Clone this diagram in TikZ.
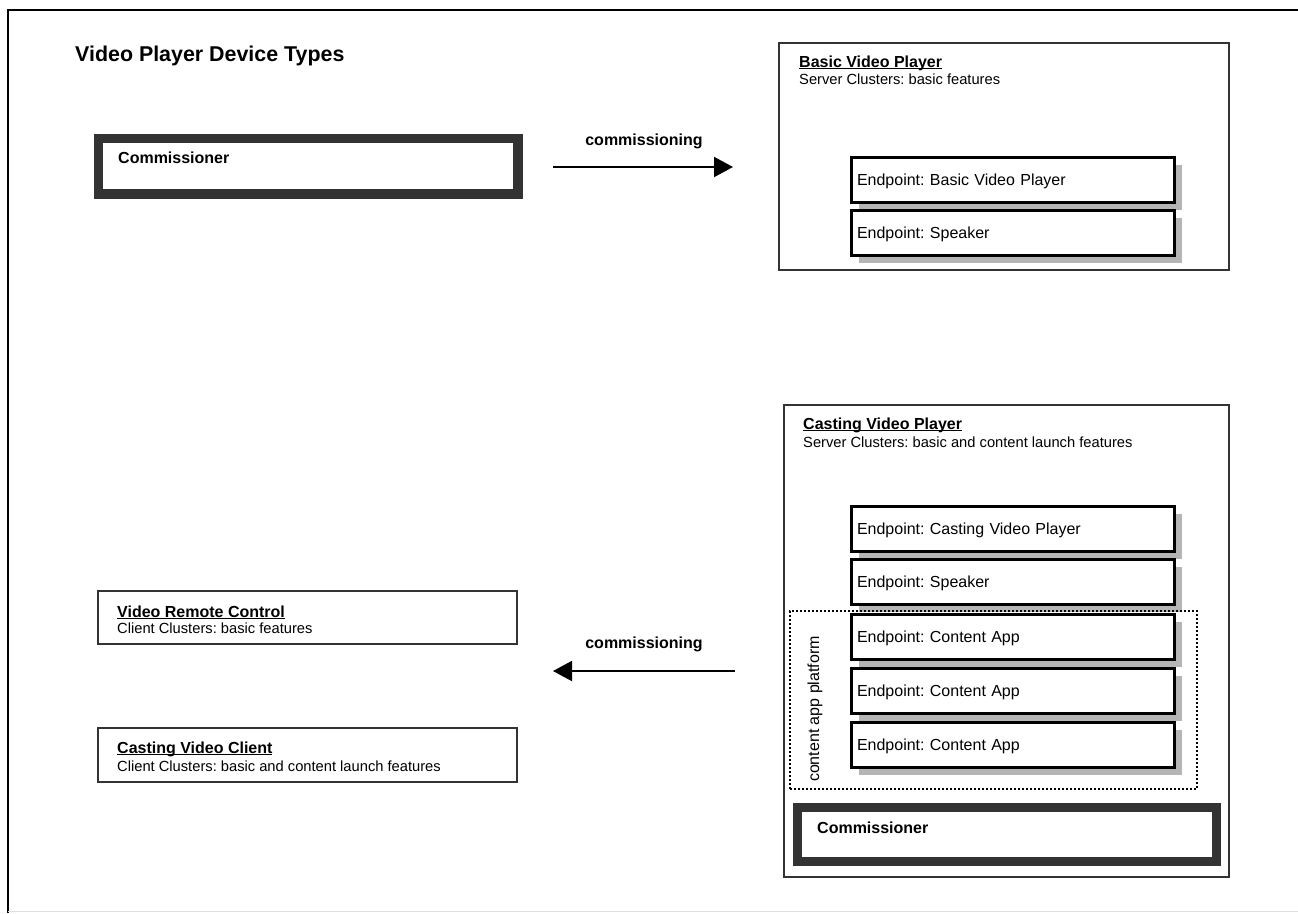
\documentclass[tikz,border=0pt]{standalone}
\usepackage{fontspec}
\setmainfont{Liberation Sans}
\usetikzlibrary{arrows.meta,shadows}
\frenchspacing
\definecolor{dk}{HTML}{333333}
\definecolor{shd}{HTML}{B5B5B5}
\newcommand\myul[1]{\setbox0\hbox{#1}\rlap{\rule[-2.2pt]{\wd0}{1.4pt}}\box0}
\tikzset{
  frame/.style={draw=dk, line width=2.5pt, inner sep=0pt, outer sep=0pt, anchor=north west},
  commbox/.style={draw=dk, line width=9.5pt, inner sep=0pt, outer sep=0pt, anchor=north west},
  endpt/.style={draw=black, fill=white, line width=3pt, outer sep=0pt, anchor=north west,
     minimum width=323pt, minimum height=45pt, text width=312pt, inner xsep=5.5pt, inner ysep=0pt,
     align=left, text height=11.5pt, text depth=0pt,
     drop shadow={shadow xshift=7pt, shadow yshift=-7pt, fill=shd, opacity=1}},
  dotbox/.style={draw=black, line width=2.2pt, dash pattern=on 2pt off 2pt, inner sep=0pt, outer sep=0pt, anchor=north west},
  hdr/.style={anchor=base west, inner sep=0pt, font=\bfseries\fontsize{16}{19}\selectfont},
  sub/.style={anchor=base west, inner sep=0pt, font=\fontsize{14.7}{17}\selectfont},
  lbl/.style={anchor=base, inner sep=0pt, font=\bfseries\fontsize{16}{19}\selectfont},
  arr/.style={line width=2pt, -{Triangle[length=19pt,width=20pt]}}
}
\begin{document}
\begin{tikzpicture}[x=1pt,y=-1pt,font=\fontsize{16}{19}\selectfont]
\useasboundingbox (0,0) rectangle (1298,913);
% outer frame
\draw[black, line width=2.5pt] (8,913) -- (8,10) -- (1298,10);
\draw[black!12, line width=1pt] (8,911.5) -- (1298,911.5);

% title
\node[anchor=base west, inner sep=0pt, font=\bfseries\fontsize{21.4}{25}\selectfont] (title) at (75,61) {Video Player Device Types};

% top-left commissioner
\node[commbox, minimum width=419.5pt, minimum height=55.5pt] (comm1) at (98.5,138.5) {};
\node[hdr] (comm1t) at (118,163) {Commissioner};

% top arrow
\coordinate (a1s) at (553,167);
\coordinate (a1e) at (733,167);
\draw[arr] (a1s) -- (a1e);
\node[lbl] (a1l) at (644,145) {commissioning};

% Basic video player
\node[frame, minimum width=450pt, minimum height=227pt] (bvp) at (779,43) {};
\node[hdr] (bvpt) at (799,67) {\myul{Basic Video Player}};
\node[sub] (bvps) at (799,84) {Server Clusters: basic features};
\node[endpt] (ep1) at (851.5,157.5) {Endpoint: Basic Video Player};
\node[endpt] (ep2) at (851.5,210.5) {Endpoint: Speaker};

% Casting video player
\node[frame, minimum width=445pt, minimum height=472pt] (cvp) at (784,405) {};
\node[hdr] (cvpt) at (803,429) {\myul{Casting Video Player}};
\node[sub] (cvps) at (803,447) {Server Clusters: basic and content launch features};
\node[endpt] (ep3) at (851.5,506.5) {Endpoint: Casting Video Player};
\node[endpt] (ep4) at (851.5,559.5) {Endpoint: Speaker};
\node[dotbox, minimum width=407pt, minimum height=178pt] (cap) at (790,611) {};
\node[endpt] (ep5) at (851.5,614.5) {Endpoint: Content App};
\node[endpt] (ep6) at (851.5,668.5) {Endpoint: Content App};
\node[endpt] (ep7) at (851.5,722.5) {Endpoint: Content App};
\node[rotate=90, inner sep=0pt] (capt) at (815,709) {content app platform};
\node[commbox, line width=9pt, minimum width=419pt, minimum height=54pt] (comm2) at (797.5,807.5) {};
\node[hdr] (comm2t) at (817,833) {Commissioner};

% bottom arrow
\coordinate (a2s) at (735,671);
\coordinate (a2e) at (553,671);
\draw[arr] (a2s) -- (a2e);
\node[lbl] (a2l) at (644,648) {commissioning};

% left client boxes
\node[frame, minimum width=419pt, minimum height=53pt] (vrc) at (98,591) {};
\node[hdr] (vrct) at (117,617) {\myul{Video Remote Control}};
\node[sub] (vrcs) at (117,633) {Client Clusters: basic features};
\node[frame, minimum width=419pt, minimum height=54pt] (cvc) at (98,728) {};
\node[hdr] (cvct) at (117,753) {\myul{Casting Video Client}};
\node[sub] (cvcs) at (117,771) {Client Clusters: basic and content launch features};
\end{tikzpicture}
\end{document}
